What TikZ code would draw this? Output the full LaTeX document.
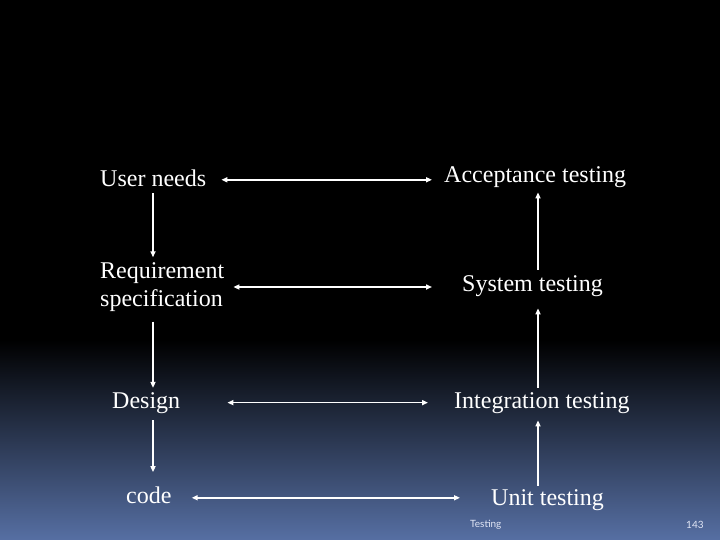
\documentclass[tikz,border=0pt]{standalone}
\usepackage{fontspec}
\setmainfont{Liberation Serif}
\newfontfamily\footfont{Lato}
\usetikzlibrary{arrows.meta,calc}
\definecolor{bgbot}{RGB}{86,111,163}
\definecolor{foottxt}{RGB}{225,230,245}
\begin{document}
\begin{tikzpicture}[x=1pt,y=-1pt,
  lbl/.style={text=white,font=\fontsize{24}{28}\selectfont,inner sep=0pt,anchor=base west},
  arr/.style={white,line width=1.5pt,-{Triangle[length=6pt,width=5pt]}},
  darr/.style={white,line width=1.5pt,{Triangle[length=6pt,width=5pt]}-{Triangle[length=6pt,width=5pt]}},
  foot/.style={text=foottxt,font=\footfont\fontsize{10}{12}\selectfont,inner sep=0pt,anchor=base west}]
\useasboundingbox (0,0) rectangle (720,540);
\fill[black] (0,0) rectangle (720,540);
\shade[top color=black,bottom color=bgbot] (0,340) rectangle (720,540);
\coordinate (xl) at (153,0);
\coordinate (xr) at (538,0);
% left column
\node[lbl] (un) at (100,187) {User needs};
\node[lbl,align=left,anchor=west] (rs) at (100,287) {Requirement\\specification};
\node[lbl] (de) at (112,408) {Design};
\node[lbl] (co) at (126,503) {code};
% right column
\node[lbl] (at) at (444,183) {Acceptance testing};
\node[lbl] (st) at (462,291) {System testing};
\node[lbl] (it) at (454,408) {Integration testing};
\node[lbl] (ut) at (491,505) {Unit testing};
% footer
\node[foot] (ft) at (470,527) {Testing};
\node[foot] (pg) at (686,528) {143};
% horizontal double arrows
\draw[darr] ($(un.east)+(15,1)$) -- ($(at.west |- un.east)+(-12,1)$);
\draw[darr] ($(rs.east)+(9,0)$) -- ($(st.west |- rs.east)+(-30,0)$);
\draw[darr] ($(de.east)+(47,0)$) -- ($(it.west |- de.east)+(-26,0)$);
\draw[darr] ($(co.east)+(20,3)$) -- ($(ut.west |- co.east)+(-31,3)$);
% left column down arrows
\draw[arr] ($(un.south -| xl)+(0,6)$) -- ($(rs.north -| xl)+(0,-5)$);
\draw[arr] ($(rs.south -| xl)+(0,10)$) -- ($(de.north -| xl)+(0,-4)$);
\draw[arr] ($(de.south -| xl)+(0,7)$) -- ($(co.north -| xl)+(0,-14)$);
% right column up arrows
\draw[arr] ($(ut.north -| xr)+(0,-3)$) -- ($(it.south -| xr)+(0,7)$);
\draw[arr] ($(it.north -| xr)+(0,-4)$) -- ($(st.south -| xr)+(0,12)$);
\draw[arr] ($(st.north -| xr)+(0,-5)$) -- ($(at.south -| xr)+(0,4)$);
\end{tikzpicture}
\end{document}
